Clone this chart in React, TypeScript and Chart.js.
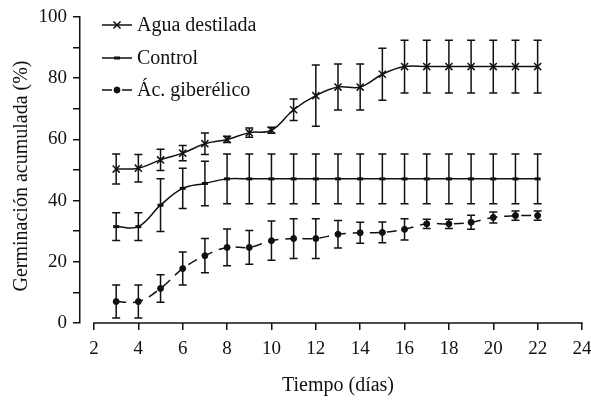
import { useEffect, useRef } from 'react';
import { Chart, registerables } from 'chart.js';
import { drawPoint } from 'chart.js/helpers';

Chart.register(...registerables);

const days = [3, 4, 5, 6, 7, 8, 9, 10, 11, 12, 13, 14, 15, 16, 17, 18, 19, 20, 21, 22];
const xTickValues = [2, 4, 6, 8, 10, 12, 14, 16, 18, 20, 22, 24];
const yTickValues = [0, 10, 20, 30, 40, 50, 60, 70, 80, 90, 100];
const yLabelled = [0, 20, 40, 60, 80, 100];
const seriesNames = ['Agua destilada', 'Control', 'Ác. giberélico'];

const agua = [50.3, 50.6, 53.3, 55.5, 58.6, 60.0, 62.2, 63.0, 69.7, 74.3, 77.1, 77.1, 81.3, 83.8, 83.8, 83.8, 83.8, 83.8, 83.8, 83.8];
const aguaErr = [4.9, 4.5, 3.5, 2.5, 3.5, 1.0, 1.5, 1.0, 3.5, 10.0, 7.5, 7.5, 8.5, 8.6, 8.6, 8.6, 8.6, 8.6, 8.6, 8.6];

const control = [31.5, 31.5, 38.5, 44.0, 45.6, 47.1, 47.1, 47.1, 47.1, 47.1, 47.1, 47.1, 47.1, 47.1, 47.1, 47.1, 47.1, 47.1, 47.1, 47.1];
const controlErr = [4.5, 4.5, 8.6, 6.6, 7.3, 8.1, 8.1, 8.1, 8.1, 8.1, 8.1, 8.1, 8.1, 8.1, 8.1, 8.1, 8.1, 8.1, 8.1, 8.1];

const giberelico = [7.0, 7.0, 11.3, 17.8, 22.0, 24.7, 24.7, 26.9, 27.6, 27.6, 29.0, 29.5, 29.6, 30.6, 32.4, 32.4, 32.9, 34.5, 35.1, 35.1];
const giberelicoErr = [5.4, 5.4, 4.5, 5.4, 5.6, 6.0, 5.5, 6.4, 6.5, 6.5, 4.5, 3.4, 3.4, 3.5, 1.5, 1.5, 2.3, 1.8, 1.5, 1.5];

const errors = [aguaErr, controlErr, giberelicoErr];

const FONT = "'Liberation Serif', 'Times New Roman', serif";
const INK = '#111111';

const overlay = {
  id: 'overlay',
  afterDatasetsDraw(chart: any) {
    const ctx = chart.ctx;
    const xs = chart.scales.x;
    const ys = chart.scales.y;
    ctx.save();
    ctx.strokeStyle = INK;
    ctx.lineWidth = 1.5;
    ctx.setLineDash([]);
    chart.data.datasets.forEach((ds: any, i: number) => {
      const errs = errors[i];
      ds.data.forEach((pt: any, j: number) => {
        const px = xs.getPixelForValue(pt.x);
        const top = ys.getPixelForValue(pt.y + errs[j]);
        const bot = ys.getPixelForValue(pt.y - errs[j]);
        ctx.beginPath();
        ctx.moveTo(px, top);
        ctx.lineTo(px, bot);
        ctx.moveTo(px - 4, top);
        ctx.lineTo(px + 4, top);
        ctx.moveTo(px - 4, bot);
        ctx.lineTo(px + 4, bot);
        ctx.stroke();
      });
    });
    ctx.restore();
  },
  afterDraw(chart: any) {
    const ctx = chart.ctx;
    const xs = chart.scales.x;
    const area = chart.chartArea;
    const x0 = xs.getPixelForValue(xTickValues[0]);
    const x1 = xs.getPixelForValue(xTickValues[xTickValues.length - 1]);
    ctx.save();
    // x axis line spanning the ticks only
    ctx.strokeStyle = INK;
    ctx.lineWidth = 1.5;
    ctx.beginPath();
    ctx.moveTo(x0 - 0.75, area.bottom);
    ctx.lineTo(x1 + 0.75, area.bottom);
    ctx.stroke();

    // axis titles
    ctx.fillStyle = INK;
    ctx.font = `20px ${FONT}`;
    ctx.textAlign = 'center';
    ctx.textBaseline = 'alphabetic';
    ctx.fillText('Tiempo (días)', (x0 + x1) / 2, 391);
    ctx.save();
    ctx.translate(27, 176);
    ctx.rotate(-Math.PI / 2);
    ctx.fillText('Germinación acumulada (%)', 0, 0);
    ctx.restore();

    // legend
    const rows = [25, 58, 90];
    chart.data.datasets.forEach((ds: any, i: number) => {
      const y = rows[i];
      ctx.save();
      ctx.strokeStyle = INK;
      ctx.lineWidth = 1.5;
      ctx.setLineDash(ds.borderDash && ds.borderDash.length ? [10, 10] : []);
      ctx.beginPath();
      ctx.moveTo(102, y);
      ctx.lineTo(132, y);
      ctx.stroke();
      ctx.setLineDash([]);
      ctx.fillStyle = INK;
      ctx.strokeStyle = INK;
      ctx.lineWidth = ds.pointBorderWidth;
      drawPoint(ctx, { pointStyle: ds.pointStyle, radius: ds.pointRadius, rotation: 0, borderWidth: ds.pointBorderWidth }, 117, y);
      ctx.restore();
      ctx.fillStyle = INK;
      ctx.font = `20px ${FONT}`;
      ctx.textAlign = 'left';
      ctx.textBaseline = 'middle';
      ctx.fillText(seriesNames[i], 137, y + 1);
    });
    ctx.restore();
  },
};

export default function App() {
  const ref = useRef<HTMLCanvasElement | null>(null);
  useEffect(() => {
    if (!ref.current) return;
    const mk = (vals: number[]) => vals.map((v, i) => ({ x: days[i], y: v }));
    const chart = new Chart(ref.current, {
      type: 'line',
      data: {
        datasets: [
          {
            label: seriesNames[0],
            data: mk(agua),
            borderColor: INK,
            backgroundColor: INK,
            borderWidth: 1.5,
            tension: 0.4,
            pointStyle: 'crossRot',
            pointRadius: 5,
            pointBorderWidth: 1.5,
            pointBorderColor: INK,
            pointBackgroundColor: INK,
          },
          {
            label: seriesNames[1],
            data: mk(control),
            borderColor: INK,
            backgroundColor: INK,
            borderWidth: 1.5,
            tension: 0.4,
            pointStyle: 'line',
            pointRadius: 3,
            pointBorderWidth: 3,
            pointBorderColor: INK,
            pointBackgroundColor: INK,
          },
          {
            label: seriesNames[2],
            data: mk(giberelico),
            borderColor: INK,
            backgroundColor: INK,
            borderWidth: 1.5,
            borderDash: [10, 7],
            tension: 0.4,
            pointStyle: 'circle',
            pointRadius: 3,
            pointBorderWidth: 1,
            pointBorderColor: INK,
            pointBackgroundColor: INK,
          },
        ],
      } as any,
      options: {
        animation: false,
        responsive: false,
        events: [],
        layout: { padding: { left: 0, top: 17, right: 9, bottom: 0 } },
        plugins: { legend: { display: false }, tooltip: { enabled: false } },
        scales: {
          x: {
            type: 'linear',
            min: 1.369,
            max: 24,
            afterBuildTicks: (s: any) => {
              s.ticks = xTickValues.map((v) => ({ value: v }));
            },
            afterFit: (s: any) => {
              s.height = 78;
              s.paddingLeft = 0;
              s.paddingRight = 0;
            },
            grid: { drawOnChartArea: false, drawTicks: true, tickLength: 7, color: INK, lineWidth: 1.5 },
            border: { display: false },
            ticks: { color: INK, font: { family: FONT, size: 19 }, padding: 8, maxRotation: 0, autoSkip: false },
          },
          y: {
            type: 'linear',
            min: 0,
            max: 100,
            afterBuildTicks: (s: any) => {
              s.ticks = yTickValues.map((v) => ({ value: v }));
            },
            afterFit: (s: any) => {
              s.width = 80;
              s.paddingTop = 0;
              s.paddingBottom = 0;
            },
            grid: { drawOnChartArea: false, drawTicks: true, tickLength: 7, color: INK, lineWidth: 1.5 },
            border: { display: true, color: INK, width: 1.5 },
            ticks: {
              color: INK,
              font: { family: FONT, size: 19 },
              padding: 6,
              autoSkip: false,
              callback: (v: any) => (yLabelled.includes(Number(v)) ? String(v) : ''),
            },
          },
        },
      } as any,
      plugins: [overlay],
    });
    return () => chart.destroy();
  }, []);
  return (
    <div style={{ position: 'fixed', left: 0, top: 0, width: 591, height: 401, background: '#fff' }}>
      <canvas ref={ref} width={591} height={401} style={{ display: 'block', width: 591, height: 401 }} />
    </div>
  );
}
